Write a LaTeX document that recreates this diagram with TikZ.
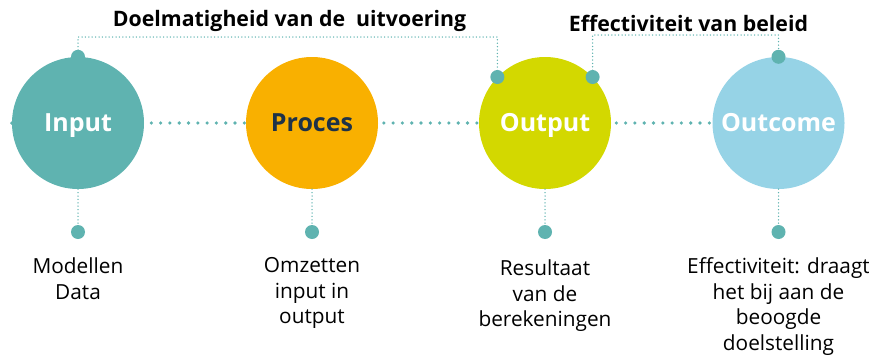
\documentclass[tikz,border=0pt]{standalone}
\usepackage{fontspec}
\setmainfont{Open Sans}
\usetikzlibrary{backgrounds}
\definecolor{cteal}{HTML}{5FB3B0}
\definecolor{cinput}{HTML}{5FB3B0}
\definecolor{cproc}{HTML}{F9B000}
\definecolor{coutp}{HTML}{D3D800}
\definecolor{coutc}{HTML}{96D3E6}
\definecolor{cnavy}{HTML}{1E3248}
\begin{document}
\begin{tikzpicture}[x=1pt,y=-1pt,
  stage/.style={circle, minimum size=132pt, inner sep=0pt, text height=18pt, text depth=2pt, font=\fontsize{25}{28}\selectfont\bfseries, text=white},
  dot/.style={circle, fill=cteal, minimum size=14pt, inner sep=0pt},
  fine/.style={cteal, line width=1.5pt, dash pattern=on 0pt off 3.4pt, line cap=round},
  coarse/.style={cteal, line width=3.6pt, dash pattern=on 0pt off 9.3pt, line cap=round},
  lbl/.style={align=center, font=\fontsize{20.8}{25.5}\selectfont, inner sep=0pt, anchor=north},
  ttl/.style={font=\fontsize{21.3}{24}\selectfont\bfseries, anchor=base, inner sep=0pt}]
\useasboundingbox (0,0) rectangle (869,356);
\node[stage, fill=cinput] (in) at (78,123) {Input};
\node[stage, fill=cproc, text=cnavy] (pr) at (312,123) {Proces};
\node[stage, fill=coutp] (ou) at (545,123) {Output};
\node[stage, fill=coutc] (oc) at (778.5,123) {Outcome};
\begin{scope}[on background layer]
\draw[coarse] (in.west) -- (oc.east);
\end{scope}
\coordinate (h1) at (0,37);
\coordinate (h2) at (0,35);
\node[dot] (a1) at (in.north) {};
\node[dot] (a2) at (ou.136) {};
\node[dot] (a3) at (ou.44) {};
\node[dot] (a4) at (oc.north) {};
\node[dot] (b1) at (78,232) {};
\node[dot] (b2) at (312,232) {};
\node[dot] (b3) at (545,232) {};
\node[dot] (b4) at (778.5,232) {};
\draw[fine] (a1.center) -- (a1.center |- h1) -| (a2.center);
\draw[fine] (a3.center) -- (a3.center |- h2) -| (a4.center);
\draw[fine] (in.south) -- (b1);
\draw[fine] (pr.south) -- (b2);
\draw[fine] (ou.south) -- (b3);
\draw[fine] (oc.south) -- (b4);
\node[ttl] (t1) at (289.5,27) {Doelmatigheid van de\ \ uitvoering};
\node[ttl] (t2) at (688.5,31) {Effectiviteit van beleid};
\node[lbl] (l1) at (78,257.5) {Modellen\\Data};
\node[lbl] (l2) at (312,257.5) {Omzetten\\input in\\output};
\node[lbl] (l3) at (545,259.5) {Resultaat\\van de\\berekeningen};
\node[lbl] (l4) at (778.5,257.5) {Effectiviteit: draagt\\het bij aan de\\beoogde\\doelstelling};
\end{tikzpicture}
\end{document}
